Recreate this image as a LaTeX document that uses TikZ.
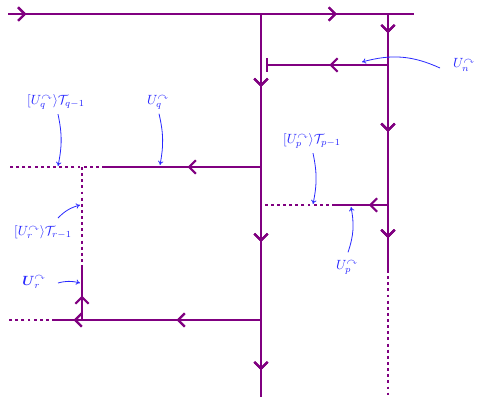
\documentclass[tikz,border=0pt]{standalone}
\usepackage{amsmath,amssymb}
\usetikzlibrary{arrows.meta,decorations.markings,bending}
\definecolor{netpurple}{RGB}{128,0,128}
\definecolor{labblue}{RGB}{40,40,255}
\tikzset{
  flow/.style={draw=netpurple, line width=2.2pt},
  dots/.style={draw=netpurple, line width=2.2pt, dash pattern=on 2.2pt off 2.4pt},
  tipat/.style={postaction={decorate},
    decoration={markings,mark=at position #1 with {\arrow{Straight Barb[length=5pt,width=10pt,line width=1.6pt]}}}},
  lab/.style={text=labblue, font=\normalsize, inner sep=1pt},
  pointer/.style={draw=labblue, line width=0.6pt, -{To[length=3pt,width=4pt]}}
}
\newcommand{\tr}[1]{U_{#1}^{\curvearrowright}}
\begin{document}
\begin{tikzpicture}[x=0.75pt,y=-0.75pt]
    \useasboundingbox (0,0) rectangle (482,404);
    % junctions and line ends
    \coordinate (tl) at (8,14);
    \coordinate (te) at (414,14);
    \coordinate (tm) at (261,14);
    \coordinate (tr) at (388,14);
    \coordinate (mb) at (261,397);
    \coordinate (rs) at (388,270);
    \coordinate (rb) at (388,395);
    \coordinate (nj) at (388,65);
    \coordinate (nb) at (266,65);
    \coordinate (qj) at (261,167);
    \coordinate (qs) at (105,167);
    \coordinate (qd) at (82,167);
    \coordinate (ql) at (8,167);
    \coordinate (pj) at (388,205);
    \coordinate (ps) at (335,205);
    \coordinate (pl) at (263,205);
    \coordinate (rj) at (261,320);
    \coordinate (rd) at (82,320);
    \coordinate (rt) at (82,268);
    \coordinate (rs2) at (55,320);
    \coordinate (rl) at (8,320);
    % lines
    \draw[flow, tipat=0.045, tipat=0.81] (tl) -- (te);
    \draw[flow, tipat=0.19, tipat=0.595, tipat=0.93] (tm) -- (mb);
    \draw[flow, tipat=0.075, tipat=0.46, tipat=0.875] (tr) -- (rs);
    \draw[dots] (rs) -- (rb);
    \draw[flow, tipat=0.48, -{Bar[width=10pt,line width=1.6pt]}] (nj) -- (nb);
    \draw[flow, tipat=0.47] (qj) -- (qs);
    \draw[dots] (qs) -- (ql);
    \draw[dots] (qd) -- (rt);
    \draw[flow, tipat=0.47] (rd) -- (rt);
    \draw[flow, tipat=0.41, tipat=0.91] (rj) -- (rs2);
    \draw[dots] (rs2) -- (rl);
    \draw[flow, tipat=0.36] (pj) -- (ps);
    \draw[dots] (ps) -- (pl);
    % labels
    \node[lab] (un) at (464,65) {$\tr{n}$};
    \node[lab] (tq) at (56,102) {$[\tr{q}\rangle\mathcal{T}_{q-1}$};
    \node[lab] (uq) at (158,102) {$\tr{q}$};
    \node[lab] (tp) at (312,141) {$[\tr{p}\rangle\mathcal{T}_{p-1}$};
    \node[lab] (up) at (347,267) {$\tr{p}$};
    \node[lab] (trr) at (43,232) {$[\tr{r}\rangle\mathcal{T}_{r-1}$};
    \node[lab] (ur) at (34,282) {$\boldsymbol{U}_{r}^{\curvearrowright}$};
    \coordinate (an) at (362,62);
    \coordinate (aq1) at (58,166);
    \coordinate (aq2) at (160,165);
    \coordinate (ap1) at (313,204);
    \coordinate (ap2) at (351,207);
    \coordinate (ar1) at (80,205);
    \coordinate (ar2) at (80,283);
    \draw[pointer] (440,68) to[bend right=20] (an);
    \draw[pointer] (tq.south) ++(2,3) to[bend left=12] (aq1);
    \draw[pointer] (uq.south) ++(1,3) to[bend left=12] (aq2);
    \draw[pointer] (tp.south) ++(1,3) to[bend left=12] (ap1);
    \draw[pointer] (up.north) ++(1,-6) to[bend right=15] (ap2);
    \draw[pointer] (58,218) to[bend left=15] (ar1);
    \draw[pointer] (58,283) to[bend left=15] (ar2);
\end{tikzpicture}
\end{document}
